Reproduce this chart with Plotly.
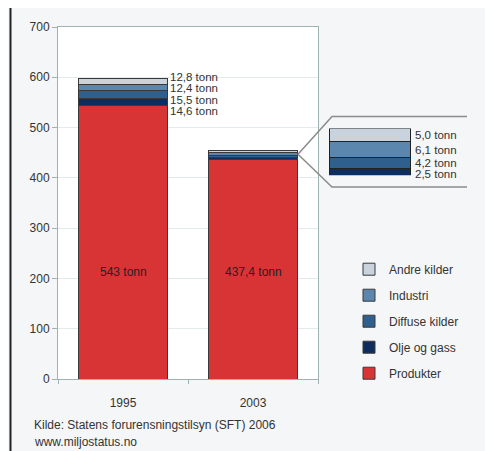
import plotly.graph_objects as go

years = ["1995", "2003"]
series_names = ["Produkter", "Olje og gass", "Diffuse kilder", "Industri", "Andre kilder"]
produkter = [543.0, 437.4]
olje_og_gass = [14.6, 2.5]
diffuse_kilder = [15.5, 4.2]
industri = [12.4, 6.1]
andre_kilder = [12.8, 5.0]
colors = ["#d93435", "#0e2d5f", "#2f5f8d", "#5b87ae", "#c8d3dd"]
label_1995 = ["12,8 tonn", "12,4 tonn", "15,5 tonn", "14,6 tonn"]
label_2003 = ["5,0 tonn", "6,1 tonn", "4,2 tonn", "2,5 tonn"]
bar_labels = ["543 tonn", "437,4 tonn"]
y_ticks = [0, 100, 200, 300, 400, 500, 600, 700]

series = [produkter, olje_og_gass, diffuse_kilder, industri, andre_kilder]
FONT = "Liberation Sans, Arial, sans-serif"
TXT = "#333333"

W, H = 493, 451
OFF = 8  # page body margin
# plot area in reference pixels: x 58..318, y 25..379
ML, MT = 58 - OFF, 25 - OFF
MR = 20
MB = H - (379 - OFF)
PW = W - ML - MR
PH = H - MT - MB


def px(x):
    return (x - OFF - ML) / PW


def py(y):
    return (379 - y) / PH


fig = go.Figure()
n = len(series_names)
for i, (name, vals) in enumerate(zip(series_names, series)):
    fig.add_trace(go.Bar(
        x=years, y=vals, name=name, marker=dict(color=colors[i], line=dict(color="#3a3a3a", width=1)),
        legendgroup=name, legendrank=n - i, xaxis="x", yaxis="y", hoverinfo="skip"))

# inset: zoomed small sources for 2003 (linear x so it stays independent)
for i, (name, vals) in enumerate(zip(series_names, series)):
    if i == 0:
        continue
    fig.add_trace(go.Bar(
        x=[0], y=[vals[1]], width=[1], name=name, showlegend=False,
        marker=dict(color=colors[i], line=dict(color="#222222", width=1.2)),
        xaxis="x2", yaxis="y2", hoverinfo="skip"))

small_2003 = [s[1] for s in series[1:]]
inset_total = sum(small_2003)

annotations = []
total_1995 = sum(s[0] for s in series)
for k, lab in enumerate(label_1995):
    annotations.append(dict(x=0, y=total_1995 + 3 - k * 23.1, xref="x", yref="y", text=lab,
                            showarrow=False, xanchor="left", xshift=45,
                            font=dict(family=FONT, size=11.5, color=TXT)))
cum = 0
centers = []
for v in small_2003:
    centers.append(cum + v / 2)
    cum += v
for k, (lab, c) in enumerate(zip(label_2003, reversed(centers))):
    annotations.append(dict(x=0.5, y=c, xref="x2", yref="y2", text=lab, showarrow=False,
                            xanchor="left", xshift=2, yshift=-2 if k == 3 else 0,
                            font=dict(family=FONT, size=11.5, color=TXT)))
for j, lab in enumerate(bar_labels):
    annotations.append(dict(x=j, y=213, xref="x", yref="y", text=lab, showarrow=False,
                            font=dict(family=FONT, size=12, color="#222222")))
annotations.append(dict(x=px(32), y=py(425), xref="paper", yref="paper", xanchor="left",
                        yanchor="middle",
                        text="Kilde: Statens forurensningstilsyn (SFT) 2006", showarrow=False,
                        font=dict(family=FONT, size=12, color=TXT)))
annotations.append(dict(x=px(32), y=py(442), xref="paper", yref="paper", xanchor="left",
                        yanchor="middle",
                        text="www.miljostatus.no", showarrow=False,
                        font=dict(family=FONT, size=12, color=TXT)))

shapes = [
    dict(type="path", xref="paper", yref="paper",
         path=f"M {px(467)},{py(115)} L {px(332)},{py(115)} L {px(298)},{py(153)} L {px(332)},{py(186)} L {px(467)},{py(186)}",
         line=dict(color="#8c8c8c", width=1.5)),
    dict(type="line", xref="paper", yref="paper", x0=px(10.5), x1=px(10.5), y0=py(460), y1=py(-10),
         line=dict(color="#222222", width=2)),
]

fig.update_layout(
    width=W, height=H,
    margin=dict(l=ML, r=MR, t=MT, b=MB),
    paper_bgcolor="#f5f6f8", plot_bgcolor="#ffffff",
    barmode="stack", bargap=0.32,
    font=dict(family=FONT, size=12, color=TXT),
    xaxis=dict(domain=[0, px(318)], type="category", categoryorder="array", categoryarray=years,
               range=[-0.5, 1.5], tickson="boundaries", ticks="outside", ticklen=4,
               tickcolor="#9fb1b1", showline=True, linecolor="#9fb1b1", mirror=True, showgrid=False,
               ticklabelstandoff=13, tickfont=dict(size=12, color=TXT)),
    yaxis=dict(range=[0, 700], tickvals=y_ticks, ticks="outside", ticklen=5, tickcolor="#9fb1b1",
               showline=True, linecolor="#9fb1b1", mirror=True, gridcolor="#e3eaea",
               tickfont=dict(size=12, color=TXT), zeroline=False),
    xaxis2=dict(domain=[px(329), px(411)], anchor="y2", range=[-0.5, 0.5], visible=False),
    yaxis2=dict(domain=[py(174), py(127)], anchor="x2", range=[0, inset_total], visible=False),
    legend=dict(x=px(349), y=py(254), xanchor="left", yanchor="top", traceorder="grouped",
                tracegroupgap=7, bgcolor="rgba(0,0,0,0)", font=dict(size=12, color=TXT)),
    annotations=annotations, shapes=shapes,
)

fig.write_html("out.html")
